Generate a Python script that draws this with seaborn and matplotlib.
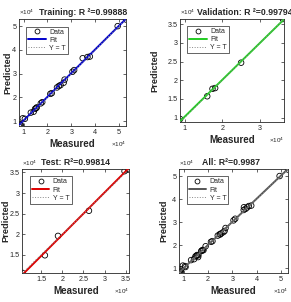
import numpy as np
import pandas as pd
import matplotlib.pyplot as plt
import seaborn as sns
from matplotlib.ticker import FuncFormatter
from matplotlib.lines import Line2D

train_measured = [8000, 8400, 8800, 9600, 10500, 13000, 14200, 14800, 15200, 15500, 17200, 17800,
                  21200, 21800, 24000, 24800, 25500, 26800, 27200, 30500, 31200, 34800, 36800, 37800,
                  49500, 53000]
train_predicted = [8000, 8600, 8400, 11200, 11000, 13600, 14000, 15200, 15500, 15800, 17500, 18000,
                   21500, 21800, 24200, 24800, 25200, 26200, 27500, 30800, 31500, 36500, 37000, 37200,
                   50000, 52800]
val_measured = [8800, 16000, 17400, 18100, 25000, 36100]
val_predicted = [9600, 15700, 17700, 17900, 24700, 36400]
test_measured = [10700, 15900, 19000, 26300, 34700, 35500]
test_predicted = [10600, 14900, 19600, 25700, 35300, 35800]
all_measured = train_measured + val_measured + test_measured
all_predicted = train_predicted + val_predicted + test_predicted

titles = ['Training: R ²=0.99888', 'Validation: R ²=0.99794', 'Test: R²=0.99814', 'All: R²=0.9987']
fit_colors = ['#0000cc', '#22cc22', '#dd0000', '#555555']
x_ticks = [[1, 2, 3, 4, 5], [1, 2, 3], [1.5, 2, 2.5, 3, 3.5], [1, 2, 3, 4, 5]]
y_ticks = [[1, 2, 3, 4, 5], [1, 1.5, 2, 2.5, 3, 3.5], [1.5, 2, 2.5, 3, 3.5], [1, 2, 3, 4, 5]]

sns.set_style('ticks', {'xtick.direction': 'in', 'ytick.direction': 'in'})
plt.rcParams['font.family'] = ['Liberation Sans', 'DejaVu Sans']

fig = plt.figure(figsize=(2.91, 3.02), dpi=100)
rects = [[0.065, 0.583, 0.368, 0.354], [0.619, 0.596, 0.357, 0.341],
         [0.077, 0.096, 0.367, 0.344], [0.615, 0.096, 0.375, 0.344]]
title_x = [0.6, 0.62, 0.5, 0.48]
ylabel_x = [-0.065, -0.2, -0.11, -0.1]
sets = [(train_measured, train_predicted), (val_measured, val_predicted),
        (test_measured, test_predicted), (all_measured, all_predicted)]

fmt = FuncFormatter(lambda v, p: f'{v / 1e4:g}')

for i, (m, p) in enumerate(sets):
    ax = fig.add_axes(rects[i])
    df = pd.DataFrame({'Measured': m, 'Predicted': p})
    lo = min(df.min())
    hi = max(df.max())
    ax.set_xlim(lo, hi)
    ax.set_ylim(lo, hi)

    sns.scatterplot(data=df, x='Measured', y='Predicted', marker='o', s=16,
                    fc='none', ec='black', linewidth=0.6, ax=ax, zorder=2)
    sns.regplot(data=df, x='Measured', y='Predicted', scatter=False, ci=None,
                truncate=False, color=fit_colors[i], line_kws={'lw': 1.4, 'zorder': 3}, ax=ax)
    ax.plot([lo, hi], [lo, hi], ls=':', color='#888888', lw=0.7, zorder=4)
    ax.set_xlim(lo, hi)
    ax.set_ylim(lo, hi)

    ax.set_xticks([t * 1e4 for t in x_ticks[i]])
    ax.set_yticks([t * 1e4 for t in y_ticks[i]])
    ax.xaxis.set_major_formatter(fmt)
    ax.yaxis.set_major_formatter(fmt)
    ax.tick_params(labelsize=5.2, length=2, width=0.5, colors='#262626',
                   top=True, right=True, pad=2.5)
    ax.tick_params(axis='y', pad=1.8)
    for s in ax.spines.values():
        s.set_visible(True)
        s.set_linewidth(0.6)
        s.set_color('#262626')

    ax.set_xlabel('Measured', fontsize=7, fontweight='bold', labelpad=2)
    ax.set_ylabel('Predicted', fontsize=6.7, fontweight='bold')
    ax.yaxis.set_label_coords(ylabel_x[i], 0.5)
    ax.set_title(titles[i], fontsize=6.3, fontweight='bold', x=title_x[i], pad=3)

    ax.text(0.0, 1.015, '×10$^4$', transform=ax.transAxes, fontsize=4.5,
            color='#262626', ha='left', va='bottom')
    ax.text(1.0, -0.13, '×10$^4$', transform=ax.transAxes, fontsize=4.5,
            color='#262626', ha='right', va='top')

    handles = [Line2D([], [], ls='none', marker='o', mfc='none', mec='black', ms=3.5, mew=0.6),
               Line2D([], [], color=fit_colors[i], lw=1.4),
               Line2D([], [], color='#888888', lw=0.7, ls=':')]
    leg = ax.legend(handles, ['Data', 'Fit', 'Y = T'], loc='upper left',
                    bbox_to_anchor=(0.07, 0.93), borderaxespad=0, fontsize=5,
                    fancybox=False, framealpha=1, edgecolor='#262626',
                    handlelength=2.5, borderpad=0.3, labelspacing=0.15, handletextpad=0.5)
    leg.get_frame().set_linewidth(0.5)

fig.savefig('out.png', dpi=100)
